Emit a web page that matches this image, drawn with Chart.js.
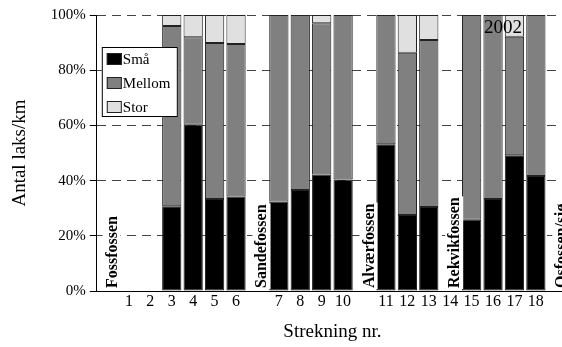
<!DOCTYPE html>
<html>
<head>
<meta charset="utf-8">
<script src="https://cdn.jsdelivr.net/npm/chart.js@4.4.0/dist/chart.umd.min.js"></script>
<style>
  html, body { margin: 0; padding: 0; background: #fff; overflow: hidden; }
  #wrap { width: 568px; height: 347px; }
</style>
</head>
<body>
<div id="wrap"><canvas id="chart"></canvas></div>
<script>
// ─── Data ─────────────────────────────────────────────────────────
// one slot per position along the river; blank slots hold the waterfalls
const categories = ['', '1', '2', '3', '4', '5', '6', '', '7', '8', '9', '10', '',
    '11', '12', '13', '14', '15', '16', '17', '18', ''];
const falls = ['Fossfossen', '', '', '', '', '', '', 'Sandefossen', '', '', '', '', 'Alværfossen',
    '', '', '', 'Rekvikfossen', '', '', '', '', 'Osfossen/sjø'];
const sma = [null, null, null, 30.7, 60.2, 33.3, 34.2, null, 32.4, 36.6, 42.2, 40.4, null,
    53.2, 27.5, 30.4, null, 25.8, 33.3, 49.2, 41.7, null];
const mellom = [null, null, null, 65.3, 31.7, 56.6, 55.3, null, 67.6, 63.4, 54.8, 59.6, null,
    46.8, 58.8, 60.5, null, 74.2, 66.7, 42.9, 58.3, null];
const stor = [null, null, null, 4.0, 8.1, 10.1, 10.5, null, 0, 0, 3.0, 0, null,
    0, 13.7, 9.1, null, 0, 0, 7.9, 0, null];
const yTicks = [0, 20, 40, 60, 80, 100];
const yearLabel = '2002';

const SERIF = "'Liberation Serif', 'Times New Roman', serif";

// ─── Waterfall names, legend and year label ───────────────────────
const overlayPlugin = {
    id: 'overlay',
    afterDatasetsDraw(chart) {
        const { ctx, chartArea, scales } = chart;
        ctx.save();

        // vertical waterfall names
        ctx.font = 'bold 16px ' + SERIF;
        falls.forEach((name, i) => {
            if (!name) return;
            const x = scales.x.getPixelForValue(i) + 9;
            const w = ctx.measureText(name).width;
            ctx.save();
            ctx.translate(x, chartArea.bottom - 3);
            ctx.rotate(-Math.PI / 2);
            ctx.fillStyle = '#fff';
            ctx.fillRect(-1, -14, w + 2, 18);
            ctx.fillStyle = '#000';
            ctx.textBaseline = 'alphabetic';
            ctx.fillText(name, 0, 0);
            ctx.restore();
        });

        // year
        ctx.font = '19px ' + SERIF;
        ctx.fillStyle = '#000';
        ctx.textAlign = 'center';
        ctx.textBaseline = 'top';
        ctx.fillText(yearLabel, scales.x.getPixelForValue(18) + 10, chartArea.top + 4);

        // legend box
        const lx = chartArea.left + 5, ly = chartArea.top + 32;
        ctx.fillStyle = '#fff';
        ctx.fillRect(lx, ly, 76, 70);
        ctx.strokeStyle = '#000';
        ctx.lineWidth = 1;
        ctx.strokeRect(lx + 0.5, ly + 0.5, 75, 69);
        ctx.font = '15px ' + SERIF;
        ctx.textAlign = 'left';
        ctx.textBaseline = 'middle';
        chart.data.datasets.forEach((ds, i) => {
            const cy = ly + 12 + i * 24;
            ctx.fillStyle = ds.backgroundColor;
            ctx.fillRect(lx + 5, cy - 6, 15, 12);
            ctx.strokeStyle = '#222';
            ctx.strokeRect(lx + 5.5, cy - 5.5, 14, 11);
            ctx.fillStyle = '#000';
            ctx.fillText(ds.label, lx + 21, cy + 1);
        });
        ctx.restore();
    },
};

new Chart(document.getElementById('chart'), {
    type: 'bar',
    data: {
        labels: categories,
        datasets: [
            { label: 'Små', data: sma, backgroundColor: '#000000' },
            { label: 'Mellom', data: mellom, backgroundColor: '#808080' },
            { label: 'Stor', data: stor, backgroundColor: '#e0e0e0' },
        ].map((d) => Object.assign(d, {
            borderColor: '#222',
            borderWidth: 1,
            borderSkipped: false,
            barPercentage: 0.9,
            categoryPercentage: 1,
        })),
    },
    options: {
        responsive: true,
        maintainAspectRatio: false,
        animation: false,
        layout: { padding: { top: 15, right: 0, left: 5, bottom: 0 } },
        plugins: { legend: { display: false }, tooltip: { enabled: false } },
        scales: {
            x: {
                stacked: true,
                grid: { display: false, drawTicks: false },
                border: { display: true, color: '#000', width: 1 },
                ticks: { color: '#000', font: { family: SERIF, size: 16 }, maxRotation: 0, autoSkip: false, padding: 1 },
                title: { display: true, text: 'Strekning nr.', color: '#000', font: { family: SERIF, size: 19 }, padding: { top: 8, bottom: 4 } },
            },
            y: {
                stacked: true,
                min: 0,
                max: 100,
                afterBuildTicks: (axis) => { axis.ticks = yTicks.map((v) => ({ value: v })); },
                grid: { color: '#444', lineWidth: 1, tickLength: 7, tickColor: '#000', tickBorderDash: [] },
                border: { display: true, color: '#000', width: 1, dash: [9, 6] },
                ticks: { color: '#000', font: { family: SERIF, size: 15 }, padding: 4, callback: (v) => v + '%' },
                title: { display: true, text: 'Antal laks/km', color: '#000', font: { family: SERIF, size: 19 }, padding: { bottom: 15 } },
            },
        },
    },
    plugins: [overlayPlugin],
});
</script>
</body>
</html>
